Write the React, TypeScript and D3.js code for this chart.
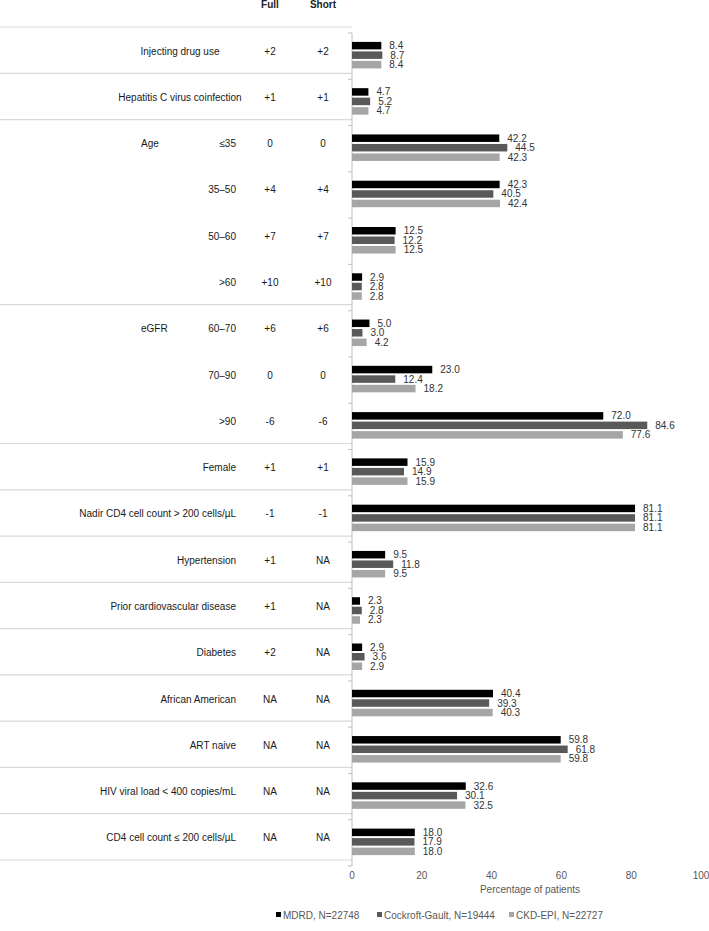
import { useEffect, useRef } from 'react';
import * as d3 from 'd3';

// Row labels of the table (left side)
const rowLabels = [
  'Injecting drug use', 'Hepatitis C virus coinfection',
  '≤35', '35–50', '50–60', '>60',
  '60–70', '70–90', '>90',
  'Female', 'Nadir CD4 cell count > 200 cells/µL', 'Hypertension',
  'Prior cardiovascular disease', 'Diabetes', 'African American',
  'ART naive', 'HIV viral load < 400 copies/mL', 'CD4 cell count ≤ 200 cells/µL',
];
// group label shown on the first row of a group
const groupLabels = ['', '', 'Age', '', '', '', 'eGFR', '', '', '', '', '', '', '', '', '', '', ''];
// rows that end a block (separator line under them)
const endsBlock = [true, true, false, false, false, true, false, false, true, true, true, true, true, true, true, true, true, true];

const fullScores = ['+2', '+1', '0', '+4', '+7', '+10', '+6', '0', '-6', '+1', '-1', '+1', '+1', '+2', 'NA', 'NA', 'NA', 'NA'];
const shortScores = ['+2', '+1', '0', '+4', '+7', '+10', '+6', '0', '-6', '+1', '-1', 'NA', 'NA', 'NA', 'NA', 'NA', 'NA', 'NA'];

const seriesNames = ['MDRD, N=22748', 'Cockroft-Gault, N=19444', 'CKD-EPI, N=22727'];
const seriesColors = ['#000000', '#595959', '#a6a6a6'];

const mdrd = [8.4, 4.7, 42.2, 42.3, 12.5, 2.9, 5.0, 23.0, 72.0, 15.9, 81.1, 9.5, 2.3, 2.9, 40.4, 59.8, 32.6, 18.0];
const cockroft = [8.7, 5.2, 44.5, 40.5, 12.2, 2.8, 3.0, 12.4, 84.6, 14.9, 81.1, 11.8, 2.8, 3.6, 39.3, 61.8, 30.1, 17.9];
const ckdEpi = [8.4, 4.7, 42.3, 42.4, 12.5, 2.8, 4.2, 18.2, 77.6, 15.9, 81.1, 9.5, 2.3, 2.9, 40.3, 59.8, 32.5, 18.0];

const xTicks = [0, 20, 40, 60, 80, 100];

const W = 709;
const H = 931;
const FONT = '"Liberation Sans", Arial, sans-serif';

const App = () => {
  const ref = useRef<SVGSVGElement>(null);

  useEffect(() => {
    const svg = d3.select(ref.current);
    svg.selectAll('*').remove();

    const x = d3.scaleLinear().domain([0, 100]).range([352, 701]);
    const y = d3.scaleBand<number>().domain(d3.range(rowLabels.length)).range([33, 866]);
    const series = [mdrd, cockroft, ckdEpi];
    const barH = 7.5;
    const barStep = 9.5;

    // header
    const head = svg.append('g').attr('font-family', FONT).attr('font-size', 10)
      .attr('font-weight', 'bold').attr('fill', '#222').attr('text-anchor', 'middle');
    head.append('text').attr('x', 270).attr('y', 8).text('Full');
    head.append('text').attr('x', 323).attr('y', 8).text('Short');

    // separator lines of the table
    const lineY = (i: number) => y(i)! - 6;
    svg.append('line').attr('x1', 0).attr('x2', x(0)).attr('y1', lineY(0)).attr('y2', lineY(0))
      .attr('stroke', '#d9d9d9').attr('stroke-width', 1.2);
    rowLabels.forEach((_, i) => {
      if (!endsBlock[i]) return;
      const ly = lineY(i) + y.step();
      svg.append('line').attr('x1', 0).attr('x2', x(0)).attr('y1', ly).attr('y2', ly)
        .attr('stroke', '#d9d9d9').attr('stroke-width', 1.2);
    });

    // table texts
    const table = svg.append('g').attr('font-family', FONT).attr('font-size', 10).attr('fill', '#1a1a1a');
    rowLabels.forEach((label, i) => {
      const ty = y(i)! + y.bandwidth() / 2 - 5;
      const centered = i < 2;
      table.append('text')
        .attr('x', centered ? 180 : 236)
        .attr('y', ty)
        .attr('dy', '0.35em')
        .attr('text-anchor', centered ? 'middle' : 'end')
        .text(label);
      if (groupLabels[i]) {
        table.append('text').attr('x', 141).attr('y', ty).attr('dy', '0.35em').text(groupLabels[i]);
      }
      table.append('text').attr('x', 270).attr('y', ty).attr('dy', '0.35em')
        .attr('text-anchor', 'middle').text(fullScores[i]);
      table.append('text').attr('x', 323).attr('y', ty).attr('dy', '0.35em')
        .attr('text-anchor', 'middle').text(shortScores[i]);
    });

    // axis line and category ticks
    svg.append('line').attr('x1', x(0)).attr('x2', x(0)).attr('y1', y.range()[0]).attr('y2', y.range()[1])
      .attr('stroke', '#bfbfbf');
    d3.range(rowLabels.length + 1).forEach(i => {
      const ty = y.range()[0] + i * y.step();
      svg.append('line').attr('x1', x(0) - 4).attr('x2', x(0)).attr('y1', ty).attr('y2', ty)
        .attr('stroke', '#bfbfbf');
    });

    // bars + labels
    const bars = svg.append('g');
    rowLabels.forEach((_, i) => {
      const c = y(i)! + y.bandwidth() / 2 - 1;
      series.forEach((vals, s) => {
        const by = c + (s - 1) * barStep - barH / 2;
        bars.append('rect')
          .attr('x', x(0)).attr('y', by)
          .attr('width', x(vals[i]) - x(0)).attr('height', barH)
          .attr('fill', seriesColors[s]);
        bars.append('text')
          .attr('x', x(vals[i]) + 8).attr('y', by + barH / 2).attr('dy', '0.35em')
          .attr('font-family', FONT).attr('font-size', 10).attr('fill', '#333')
          .text(vals[i].toFixed(1));
      });
    });

    // x tick labels
    const xt = svg.append('g').attr('font-family', FONT).attr('font-size', 10)
      .attr('fill', '#595959').attr('text-anchor', 'middle');
    xTicks.forEach(t => {
      xt.append('text').attr('x', x(t)).attr('y', 878.5).text(t);
    });
    xt.append('text').attr('x', 530).attr('y', 893).text('Percentage of patients');

    // legend
    const legendX = [276, 377, 509];
    const lg = svg.append('g').attr('font-family', FONT).attr('font-size', 10).attr('fill', '#595959');
    seriesNames.forEach((name, s) => {
      lg.append('rect').attr('x', legendX[s]).attr('y', 912).attr('width', 5).attr('height', 5)
        .attr('fill', seriesColors[s]);
      lg.append('text').attr('x', legendX[s] + 7).attr('y', 918.5).text(name);
    });
  }, []);

  return (
    <svg
      ref={ref}
      width={W}
      height={H}
      style={{ position: 'absolute', left: 0, top: 0, background: '#fff' }}
    />
  );
};

export default App;
